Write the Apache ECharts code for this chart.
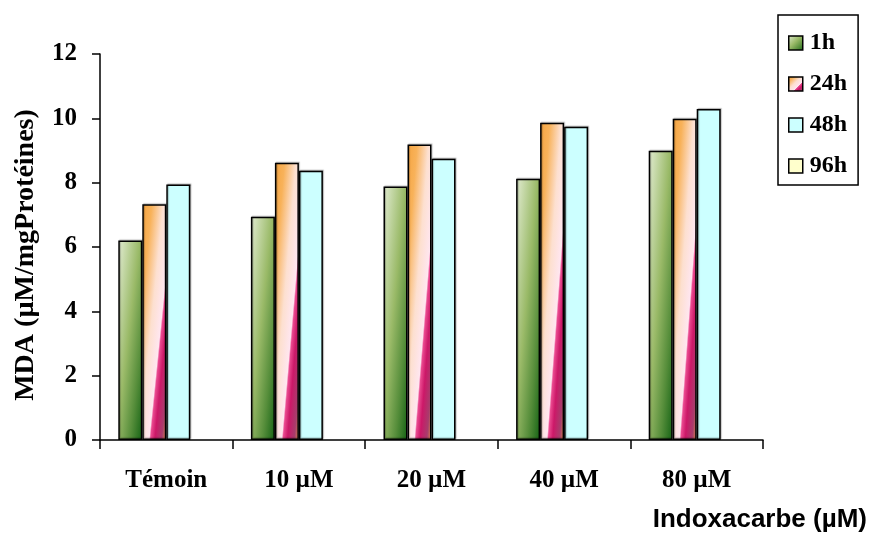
<!DOCTYPE html>
<html>
<head>
<meta charset="utf-8">
<script src="https://cdn.jsdelivr.net/npm/echarts@6/dist/echarts.min.js"></script>
<style>
  html, body { margin: 0; padding: 0; background: #ffffff; }
  #chart { width: 871px; height: 540px; }
</style>
</head>
<body>
<div id="chart"></div>
<script>
// MDA levels per Indoxacarbe concentration and exposure time
const categories = ['Témoin', '10 µM', '20 µM', '40 µM', '80 µM'];
const seriesNames = ['1h', '24h', '48h', '96h'];
const h1  = [6.2, 6.94, 7.88, 8.12, 8.99];
const h24 = [7.33, 8.62, 9.19, 9.86, 9.99];
const h48 = [7.94, 8.37, 8.74, 9.74, 10.29];
const h96 = [null, null, null, null, null];
const yTicks = { min: 0, max: 12, interval: 2 };

const serif = "'Liberation Serif', 'Times New Roman', serif";
const sans = "'Liberation Sans', Arial, sans-serif";

const G = echarts.graphic.LinearGradient;

// colour stops of the two shaded fills (position along the box diagonal)
const greenStops = [
  { offset: 0, color: '#e2ecd2' },
  { offset: 0.45, color: '#9aba68' },
  { offset: 0.75, color: '#558d3a' },
  { offset: 1, color: '#146214' }
];
const orangeStops = [
  { offset: 0, color: '#f39aa4' },
  { offset: 0.04, color: '#f6a745' },
  { offset: 0.2, color: '#f8b25a' },
  { offset: 0.44, color: '#fde0d0' },
  { offset: 0.64, color: '#ffe6f0' },
  { offset: 0.67, color: '#ea4a90' },
  { offset: 0.76, color: '#cc1868' },
  { offset: 0.9, color: '#a83c6c' },
  { offset: 1, color: '#d88a48' }
];
const stopSets = [greenStops, orangeStops, null, null];
const flatColors = [null, null, '#ccffff', '#ffffcc'];
const values = [h1, h24, h48, h96];

// Gradient whose iso-lines run parallel to the box's anti-diagonal,
// so the shading stretches with the shape (top-left -> bottom-right).
function shapeGradient(stops, w, h) {
  const d = w * w + h * h;
  return new G(0, 0, 2 * h * h / d, 2 * w * w / d, stops);
}

function seriesColor(i) {
  return stopSets[i] ? shapeGradient(stopSets[i], 1, 1) : flatColors[i];
}

const chart = echarts.init(document.getElementById('chart'), null, { renderer: 'canvas' });

const barStyle = {
  borderColor: '#000',
  borderWidth: 1.5,
  shadowColor: 'rgba(0,0,0,0.25)',
  shadowBlur: 1,
  shadowOffsetX: 1,
  shadowOffsetY: -1
};

chart.setOption({
  animation: false,
  backgroundColor: '#ffffff',
  title: {
    text: 'Indoxacarbe (µM)',
    right: 4,
    top: 507,
    padding: 0,
    textStyle: { fontFamily: sans, fontWeight: 'bold', fontSize: 26, color: '#000' }
  },
  legend: {
    orient: 'vertical',
    left: 778,
    top: 15,
    padding: [16, 11, 7, 10],
    itemGap: 17,
    itemWidth: 14,
    itemHeight: 14,
    icon: 'rect',
    borderColor: '#000',
    borderWidth: 1.5,
    backgroundColor: '#fff',
    itemStyle: { borderColor: '#000', borderWidth: 1.5 },
    textStyle: { fontFamily: serif, fontWeight: 'bold', fontSize: 24, color: '#000', padding: [0, 0, 0, 2] },
    data: seriesNames
  },
  grid: { left: 100, top: 54, right: 108, bottom: 100, containLabel: false },
  xAxis: {
    type: 'category',
    data: categories,
    boundaryGap: true,
    axisLine: { lineStyle: { color: '#000', width: 1.5 } },
    axisTick: { show: true, length: 9, lineStyle: { color: '#000', width: 1.5 } },
    axisLabel: { margin: 28, fontFamily: serif, fontWeight: 'bold', fontSize: 25, color: '#000' },
    splitLine: { show: false }
  },
  yAxis: {
    type: 'value',
    min: yTicks.min,
    max: yTicks.max,
    interval: yTicks.interval,
    name: 'MDA (µM/mgProtéines)',
    nameLocation: 'middle',
    nameRotate: 90,
    nameGap: 60,
    nameTextStyle: { fontFamily: serif, fontWeight: 'bold', fontSize: 28, color: '#000', padding: [0, 16, 0, 0] },
    axisLine: { show: true, lineStyle: { color: '#000', width: 1.5 } },
    axisTick: { show: true, length: 8, lineStyle: { color: '#000', width: 1.5 } },
    axisLabel: { margin: 23, fontFamily: serif, fontWeight: 'bold', fontSize: 25, color: '#000' },
    splitLine: { show: false }
  },
  series: seriesNames.map((name, i) => ({
    name: name,
    type: 'bar',
    data: values[i],
    barGap: '0%',
    barCategoryGap: '27.6%',
    itemStyle: Object.assign({ color: seriesColor(i) }, barStyle)
  }))
});

// Second pass: give each shaded bar a gradient fitted to its own size.
const model = chart.getModel();
chart.setOption({
  series: seriesNames.map((name, i) => {
    if (!stopSets[i]) return {};
    const data = model.getSeriesByIndex(i).getData();
    return {
      data: values[i].map((v, j) => {
        const lay = data.getItemLayout(j);
        const w = Math.abs(lay.width) || 1;
        const h = Math.abs(lay.height) || 1;
        return { value: v, itemStyle: { color: shapeGradient(stopSets[i], w, h) } };
      })
    };
  })
});
</script>
</body>
</html>
